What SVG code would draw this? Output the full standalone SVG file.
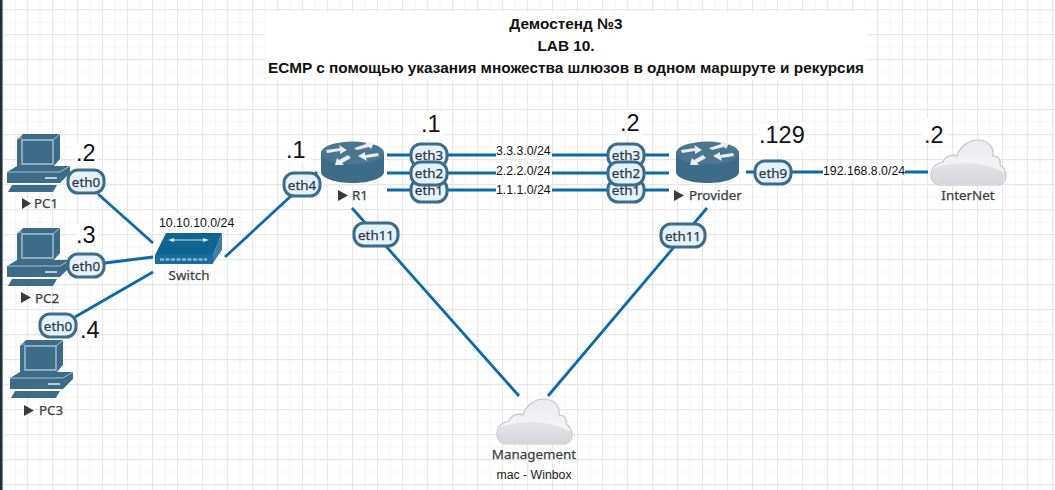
<svg xmlns="http://www.w3.org/2000/svg" width="1055" height="490" viewBox="0 0 1055 490">
<style>
.link{stroke:#0b6aa8;stroke-width:2.8;fill:none}
.ifb{fill:#e4f2fd;stroke:#3d6c8b;stroke-width:3}
.ift{font:400 13.4px "Noto Sans",sans-serif;fill:#2c3740;stroke:#2c3740;stroke-width:.25;text-anchor:middle}
.lbl{font:400 13.4px "Noto Sans",sans-serif;fill:#3a3f44;stroke:#3a3f44;stroke-width:.25;text-anchor:middle}
.net{font:12.3px "Liberation Sans",Arial,sans-serif;fill:#111}
.ip{font:23.5px "Liberation Sans",Arial,sans-serif;fill:#111}
.ttl{font:bold 15.35px "Liberation Sans",Arial,sans-serif;fill:#111;text-anchor:middle}
.w{fill:#fff}
.d{fill:#3d6c88}
.tri{fill:#3a3a3a;stroke:none}
</style>
<defs>
<pattern id="grid" width="25" height="25" patternUnits="userSpaceOnUse" x="2" y="9">
<path d="M13 0V25M0 13H25" stroke="#f5f5f7" stroke-width="1.2" fill="none"/>
<path d="M0.5 0V25M0 0.5H25" stroke="#e8e8ea" stroke-width="1.3" fill="none"/>
</pattern>
<linearGradient id="cl" x1="0" y1="0" x2="0" y2="1"><stop offset="0" stop-color="#ececef"/><stop offset="1" stop-color="#f8f8fa"/></linearGradient>
<linearGradient id="cl2" x1="0" y1="0" x2="0" y2="1"><stop offset="0" stop-color="#e6e6ea"/><stop offset="1" stop-color="#d4d4d9"/></linearGradient>
<g id="pc">
<path class="d" d="M17 140L23 134H60V159L53 167H17Z"/>
<path d="M22 140H53V164H22Z" fill="none" stroke="#a9c2d0" stroke-width="1.4"/>
<path d="M24 142H51V162H24Z" class="d"/>
<path d="M17 138H22M53 140L60 134" stroke="#a9c2d0" stroke-width="1"/>
<path class="d" d="M7 172L17 166H70V173L60 183H7Z"/>
<path d="M7 172H60L70 166" stroke="#a9c2d0" stroke-width="1" fill="none"/>
<rect x="45" y="177" width="12" height="2" fill="#b9ced9"/>
<path class="d" d="M12 185H57L53 192H8Z"/>
</g>
<g id="router">
<path class="d" d="M321 153V172C321 178 335 183 352.500 183S384 178 384 172V153Z"/>
<ellipse cx="352.500" cy="153" rx="31.500" ry="11.500" fill="#4a7690"/>
<path d="M326 150L340 148L339 145L347 150L340 154V151L327 153ZM379 156L366 158L367 161L358 156L365 152V155L378 153ZM354 148L366 144L365 142L374 143L371 149L369 147L357 150ZM351 158L342 163L344 165L335 165L337 158L339 160L348 155Z" fill="#e6eef2"/>
</g>
<g id="cloud">
<path d="M941 185C933 185 931 179 931 175C931 167 937 163 943 162C945 156 952 154 957 156C960 146 969 140 978 140C988 140 994 147 993 156C999 156 1001 161 1000 165C1005 168 1006 172 1006 176C1006 181 1003 185 997 185Z" fill="url(#cl)" stroke="#c4c4c9" stroke-width="1.200"/>
<path d="M932 169C955 160 985 161 1005 173C1006 179 1003 184.400 997 184.400H941C934 184.400 930 178 932 169Z" fill="url(#cl2)"/>
</g>
</defs>
<rect width="1055" height="490" fill="#fff"/>
<rect width="1055" height="490" fill="url(#grid)"/>
<rect width="2.500" height="490" fill="#1f2f3a"/>
<rect x="265" y="12" width="602" height="68" class="w"/>
<g id="connectors">
<path class="link" d="M98 194L153 243"/>
<path class="link" d="M105 263L153 257"/>
<path class="link" d="M75 317L153 272"/>
<path class="link" d="M225 257L317 172"/>
<path class="link" d="M387 155H669"/>
<path class="link" d="M387 173H669"/>
<path class="link" d="M387 190H669"/>
<path class="link" d="M746 172H928"/>
<path class="link" d="M352 208L519 396"/>
<path class="link" d="M707 208L548 396"/>
</g>
<g id="title">
<text class="ttl" x="566" y="29">Демостенд №3</text>
<text class="ttl" x="566" y="51">LAB 10.</text>
<text class="ttl" x="566" y="73">ECMP с помощью указания множества шлюзов в одном маршруте и рекурсия</text>
</g>
<g id="PC1"><use href="#pc"/><path class="tri" d="M22 198L31 203.500L22 209Z"/><text class="lbl" x="34" y="208" style="text-anchor:start">PC1</text>
<rect class="w" x="76" y="142" width="22" height="24"/><text class="ip" x="76" y="161">.2</text>
<rect class="ifb" x="68" y="170" width="36" height="23" rx="10"/><text class="ift" x="86" y="186.500">eth0</text></g>
<g id="PC2"><use href="#pc" y="94"/><path class="tri" d="M21 292L31 297.500L21 303Z"/><text class="lbl" x="35" y="303" style="text-anchor:start">PC2</text>
<rect class="w" x="76" y="224" width="22" height="24"/><text class="ip" x="76" y="243">.3</text>
<rect class="ifb" x="68" y="254" width="36" height="23" rx="10"/><text class="ift" x="86" y="270.500">eth0</text></g>
<g id="PC3"><use href="#pc" x="3" y="206"/><path class="tri" d="M24 405L34 410.500L24 416Z"/><text class="lbl" x="39" y="415" style="text-anchor:start">PC3</text>
<rect class="w" x="80" y="321" width="20" height="22"/><text class="ip" x="80" y="338">.4</text>
<rect class="ifb" x="40" y="314" width="36" height="23" rx="10"/><text class="ift" x="58" y="330.500">eth0</text></g>
<g id="Switch">
<path d="M155 255L166 233H222L213 255Z" fill="#0f6492"/>
<path d="M213 255L222 233V250L213 263Z" fill="#3d7ea3"/>
<rect x="155" y="255" width="58" height="9" fill="#1a6e9e"/>
<path d="M170 240H207" stroke="#dbe9f1" stroke-width="1"/>
<path d="M168 240L174 238V242ZM209 240L203 238V242Z" fill="#dbe9f1"/>
<path d="M160 259.500H207" stroke="#8db6cd" stroke-width="2.500" stroke-dasharray="4 1.500"/>
<text class="lbl" x="189" y="280">Switch</text>
<rect class="w" x="158" y="214" width="78" height="16"/><text class="net" x="159" y="227">10.10.10.0/24</text>
</g>
<g id="R1"><use href="#router"/><path class="tri" d="M338 190L348 195.500L338 201Z"/><text class="lbl" x="352" y="200" style="text-anchor:start">R1</text></g>
<g id="R1-ifs">
<rect class="w" x="286" y="136" width="25" height="26"/><text class="ip" x="286" y="158">.1</text>
<rect class="w" x="420" y="112" width="24" height="26"/><text class="ip" x="421" y="132">.1</text>
<rect class="ifb" x="284" y="173" width="36" height="23" rx="10"/><text class="ift" x="302" y="189.500">eth4</text>
<rect class="ifb" x="411" y="144" width="36" height="23" rx="10"/><text class="ift" x="429" y="160">eth3</text>
<rect class="ifb" x="411" y="179" width="36" height="23" rx="10"/><text class="ift" x="429" y="195">eth1</text>
<rect class="ifb" x="411" y="162" width="36" height="23" rx="10"/><text class="ift" x="429" y="178">eth2</text>
<rect class="ifb" x="354" y="223" width="44" height="23" rx="10"/><text class="ift" x="376" y="239.500">eth11</text>
</g>
<g id="links-text">
<rect class="w" x="496" y="146" width="56" height="12"/><text class="net" x="496" y="155">3.3.3.0/24</text>
<rect class="w" x="496" y="164" width="56" height="12"/><text class="net" x="496" y="175">2.2.2.0/24</text>
<rect class="w" x="496" y="182" width="56" height="12"/><text class="net" x="496" y="194">1.1.1.0/24</text>
<rect class="w" x="823" y="165" width="82" height="14"/><text class="net" x="823" y="175">192.168.8.0/24</text>
</g>
<g id="Provider"><use href="#router" x="355"/><path class="tri" d="M674 190L684 195.500L674 201Z"/><text class="lbl" x="689" y="200" style="text-anchor:start">Provider</text></g>
<g id="Provider-ifs">
<rect class="w" x="618" y="110" width="24" height="26"/><text class="ip" x="620" y="131">.2</text>
<rect class="w" x="757" y="124" width="48" height="26"/><text class="ip" x="759" y="143">.129</text>
<rect class="ifb" x="608" y="144" width="36" height="23" rx="10"/><text class="ift" x="626" y="160">eth3</text>
<rect class="ifb" x="608" y="179" width="36" height="23" rx="10"/><text class="ift" x="626" y="195">eth1</text>
<rect class="ifb" x="608" y="162" width="36" height="23" rx="10"/><text class="ift" x="626" y="178">eth2</text>
<rect class="ifb" x="755" y="161" width="36" height="23" rx="10"/><text class="ift" x="773" y="177.500">eth9</text>
<rect class="ifb" x="661" y="224" width="44" height="23" rx="10"/><text class="ift" x="683" y="240.500">eth11</text>
</g>
<g id="InterNet"><rect class="w" x="923" y="118" width="24" height="26"/><text class="ip" x="924" y="143">.2</text><use href="#cloud"/><text class="lbl" x="968" y="200">InterNet</text></g>
<g id="Management"><use href="#cloud" x="-434" y="259"/><text class="lbl" x="534" y="459">Management</text><text x="534" y="479" text-anchor="middle" style="font:12.3px 'Liberation Sans',Arial,sans-serif;fill:#222">mac - Winbox</text></g>
</svg>
